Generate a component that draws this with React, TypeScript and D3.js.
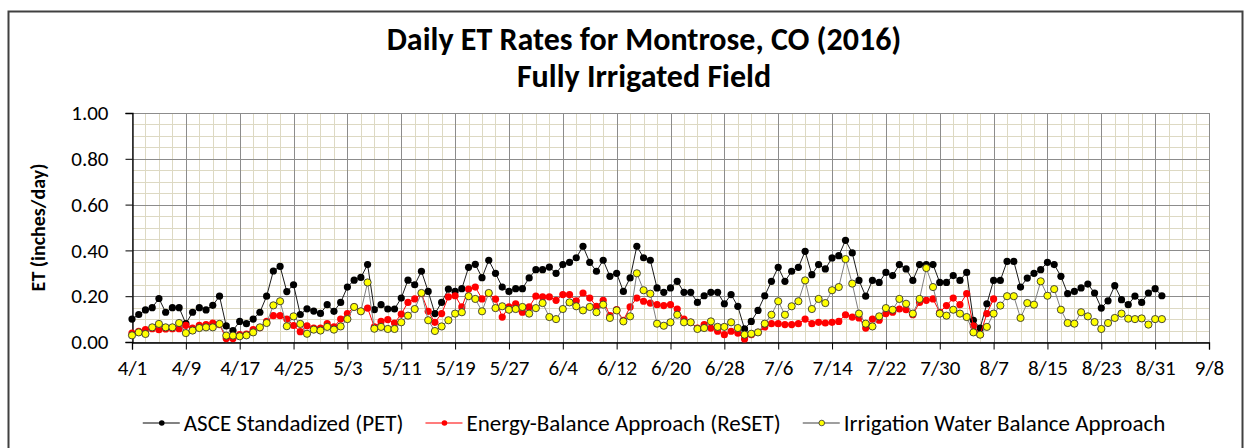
import React, { useEffect, useRef } from 'react';
import * as d3 from 'd3';

// daily values (inches/day), first value is 4/1/2016
const startDate = new Date(2016, 3, 1);
const endDate = new Date(2016, 8, 8);

const ascePET = [
  0.10, 0.12, 0.14, 0.15, 0.19, 0.13, 0.15, 0.15, 0.08, 0.13,
  0.15, 0.14, 0.16, 0.20, 0.07, 0.05, 0.09, 0.08, 0.10, 0.13,
  0.20, 0.31, 0.33, 0.22, 0.25, 0.12, 0.145, 0.135, 0.125, 0.163,
  0.134, 0.173, 0.24, 0.27, 0.282, 0.338, 0.141, 0.163, 0.144, 0.144,
  0.192, 0.27, 0.25, 0.309, 0.221, 0.124, 0.173, 0.231, 0.221, 0.233,
  0.326, 0.339, 0.281, 0.357, 0.30, 0.24, 0.221, 0.233, 0.233, 0.28,
  0.316, 0.316, 0.327, 0.30, 0.338, 0.348, 0.368, 0.418, 0.348, 0.309,
  0.357, 0.287, 0.30, 0.221, 0.28, 0.418, 0.368, 0.357, 0.236, 0.217,
  0.236, 0.265, 0.217, 0.217, 0.173, 0.202, 0.217, 0.217, 0.167, 0.207,
  0.156, 0.057, 0.09, 0.138, 0.202, 0.265, 0.326, 0.265, 0.309, 0.326,
  0.396, 0.294, 0.338, 0.319, 0.367, 0.377, 0.444, 0.389, 0.269, 0.20,
  0.269, 0.26, 0.304, 0.29, 0.338, 0.319, 0.269, 0.338, 0.338, 0.338,
  0.26, 0.26, 0.29, 0.269, 0.304, 0.095, 0.061, 0.167, 0.269, 0.269,
  0.352, 0.352, 0.24, 0.279, 0.30, 0.316, 0.348, 0.338, 0.287, 0.211,
  0.221, 0.236, 0.253, 0.214, 0.148, 0.18, 0.246, 0.185, 0.163, 0.20,
  0.173, 0.214, 0.233, 0.202,
];

const resetET = [
  0.039, 0.047, 0.054, 0.058, 0.054, 0.057, 0.058, 0.058, 0.073, 0.061,
  0.073, 0.076, 0.083, 0.076, 0.015, 0.015, 0.032, 0.035, 0.054, 0.063,
  0.09, 0.115, 0.115, 0.10, 0.072, 0.045, 0.071, 0.061, 0.061, 0.08,
  0.066, 0.10, 0.124, 0.153, 0.134, 0.148, 0.066, 0.09, 0.098, 0.083,
  0.122, 0.173, 0.188, 0.211, 0.134, 0.086, 0.124, 0.197, 0.202, 0.153,
  0.231, 0.24, 0.188, 0.212, 0.187, 0.109, 0.153, 0.167, 0.13, 0.153,
  0.20, 0.197, 0.197, 0.182, 0.207, 0.207, 0.18, 0.214, 0.192, 0.156,
  0.182, 0.115, 0.141, 0.095, 0.153, 0.192, 0.178, 0.17, 0.163, 0.159,
  0.163, 0.144, 0.10, 0.086, 0.061, 0.076, 0.061, 0.047, 0.032, 0.047,
  0.039, 0.013, 0.032, 0.042, 0.066, 0.08, 0.08, 0.076, 0.076, 0.08,
  0.10, 0.08, 0.086, 0.083, 0.086, 0.09, 0.119, 0.109, 0.105, 0.061,
  0.10, 0.095, 0.124, 0.13, 0.144, 0.141, 0.119, 0.173, 0.182, 0.188,
  0.13, 0.159, 0.192, 0.163, 0.211, 0.071, 0.032, 0.124, 0.188,
];

const irrigationWB = [
  0.029, 0.042, 0.035, 0.064, 0.079, 0.064, 0.064, 0.083, 0.039, 0.05,
  0.061, 0.064, 0.064, 0.079, 0.028, 0.028, 0.025, 0.029, 0.042, 0.064,
  0.083, 0.16, 0.178, 0.069, 0.112, 0.079, 0.036, 0.054, 0.05, 0.066,
  0.054, 0.068, 0.10, 0.153, 0.134, 0.26, 0.058, 0.066, 0.057, 0.057,
  0.086, 0.115, 0.144, 0.214, 0.095, 0.048, 0.068, 0.095, 0.124, 0.13,
  0.20, 0.188, 0.134, 0.214, 0.148, 0.156, 0.141, 0.144, 0.153, 0.124,
  0.148, 0.17, 0.109, 0.10, 0.144, 0.173, 0.156, 0.138, 0.153, 0.13,
  0.163, 0.105, 0.138, 0.09, 0.112, 0.30, 0.226, 0.211, 0.08, 0.071,
  0.086, 0.119, 0.086, 0.086, 0.057, 0.061, 0.09, 0.066, 0.066, 0.086,
  0.061, 0.032, 0.036, 0.042, 0.08, 0.119, 0.178, 0.119, 0.156, 0.178,
  0.269, 0.144, 0.188, 0.17, 0.226, 0.24, 0.362, 0.255, 0.124, 0.08,
  0.068, 0.112, 0.148, 0.141, 0.188, 0.167, 0.124, 0.188, 0.323, 0.24,
  0.124, 0.115, 0.141, 0.124, 0.109, 0.042, 0.032, 0.066, 0.124, 0.159,
  0.20, 0.20, 0.105, 0.17, 0.163, 0.265, 0.202, 0.231, 0.141, 0.083,
  0.08, 0.13, 0.112, 0.087, 0.057, 0.083, 0.105, 0.124, 0.102, 0.10,
  0.103, 0.076, 0.10, 0.10,
];

const yTicks = [0, 0.2, 0.4, 0.6, 0.8, 1.0];
const seriesNames = [
  'ASCE Standadized (PET)',
  'Energy-Balance Approach (ReSET)',
  'Irrigation Water Balance Approach',
];

const FONT = 'Carlito, Calibri, Roboto, sans-serif';

const App = () => {
  const svgRef = useRef(null);
  const width = 1249;
  const height = 448;

  useEffect(() => {
    const svg = d3.select(svgRef.current);
    svg.selectAll('*').remove();

    const x = d3.scaleTime().domain([startDate, endDate]).range([132, 1209]);
    const y = d3.scaleLinear().domain([0, 1]).range([342, 113]);
    const day = (i) => d3.timeDay.offset(startDate, i);
    const nDays = d3.timeDay.count(startDate, endDate);
    const px = (v) => Math.round(v) + 0.5;

    // outer frame
    svg.append('rect')
      .attr('x', 8.5).attr('y', 11.5)
      .attr('width', 1234).attr('height', 460)
      .attr('fill', 'white')
      .attr('stroke', '#404040')
      .attr('stroke-width', 2);

    // titles
    svg.append('text')
      .attr('x', 644).attr('y', 50)
      .attr('text-anchor', 'middle')
      .style('font-family', FONT)
      .style('font-weight', 'bold')
      .style('font-size', '32px')
      .text('Daily ET Rates for Montrose, CO (2016)');
    svg.append('text')
      .attr('x', 644).attr('y', 87)
      .attr('text-anchor', 'middle')
      .style('font-family', FONT)
      .style('font-weight', 'bold')
      .style('font-size', '32px')
      .text('Fully Irrigated Field');

    const grid = svg.append('g').attr('shape-rendering', 'crispEdges');

    // minor grid
    grid.selectAll('.vminor')
      .data(d3.range(0, nDays + 1, 2))
      .enter().append('line')
      .attr('x1', d => px(x(day(d)))).attr('x2', d => px(x(day(d))))
      .attr('y1', y(0)).attr('y2', y(1))
      .attr('stroke', '#ddd9c3').attr('stroke-width', 1);

    grid.selectAll('.hminor')
      .data(d3.range(0, 1.001, 0.05))
      .enter().append('line')
      .attr('x1', x(startDate)).attr('x2', x(endDate))
      .attr('y1', d => px(y(d))).attr('y2', d => px(y(d)))
      .attr('stroke', '#ddd9c3').attr('stroke-width', 1);

    // major grid
    const xTickDays = d3.range(0, nDays + 1, 8);
    grid.selectAll('.vmajor')
      .data(xTickDays)
      .enter().append('line')
      .attr('x1', d => px(x(day(d)))).attr('x2', d => px(x(day(d))))
      .attr('y1', y(0)).attr('y2', y(1))
      .attr('stroke', '#8c8c8c').attr('stroke-width', 1);

    grid.selectAll('.hmajor')
      .data(yTicks)
      .enter().append('line')
      .attr('x1', x(startDate)).attr('x2', x(endDate))
      .attr('y1', d => px(y(d))).attr('y2', d => px(y(d)))
      .attr('stroke', '#8c8c8c').attr('stroke-width', 1);

    // axes
    const xAxis = svg.append('g')
      .attr('transform', `translate(0,${px(y(0))})`)
      .call(d3.axisBottom(x)
        .tickValues(xTickDays.map(day))
        .tickFormat(d3.timeFormat('%-m/%-d'))
        .tickSize(7)
        .tickPadding(11));
    const yAxis = svg.append('g')
      .attr('transform', `translate(${px(x(startDate))},0)`)
      .call(d3.axisLeft(y)
        .tickValues(yTicks)
        .tickFormat(d3.format('.2f'))
        .tickSize(7)
        .tickPadding(17));
    [xAxis, yAxis].forEach(a => {
      a.select('.domain').attr('stroke', '#000').attr('stroke-width', 1.3);
      a.selectAll('.tick line').attr('stroke', '#000');
      a.selectAll('.tick text')
        .attr('fill', '#000')
        .style('font-family', FONT)
        .style('font-size', '21px');
    });

    svg.append('text')
      .attr('transform', `translate(45,${(y(0) + y(1)) / 2}) rotate(-90)`)
      .attr('text-anchor', 'middle')
      .style('font-family', FONT)
      .style('font-weight', 'bold')
      .style('font-size', '20px')
      .text('ET (inches/day)');

    // series
    const series = [
      { name: seriesNames[0], values: ascePET, line: '#1a1a1a', legendLine: '#595959', fill: '#000', stroke: 'none' },
      { name: seriesNames[1], values: resetET, line: '#ff0000', legendLine: '#ff5050', fill: '#ff0000', stroke: 'none' },
      { name: seriesNames[2], values: irrigationWB, line: '#7f7f7f', legendLine: '#7f7f7f', fill: '#ffff00', stroke: '#333' },
    ];

    const line = d3.line()
      .x((d, i) => x(day(i)))
      .y(d => y(d));

    series.forEach(s => {
      const g = svg.append('g');
      g.append('path')
        .attr('d', line(s.values))
        .attr('fill', 'none')
        .attr('stroke', s.line)
        .attr('stroke-width', 1);
      g.selectAll('circle')
        .data(s.values)
        .enter().append('circle')
        .attr('cx', (d, i) => x(day(i)))
        .attr('cy', d => y(d))
        .attr('r', 3.6)
        .attr('fill', s.fill)
        .attr('stroke', s.stroke)
        .attr('stroke-width', 0.9);
    });

    // legend
    const legend = svg.append('g');
    const gap = 22;
    let cx = 0;
    series.forEach(s => {
      const item = legend.append('g');
      item.append('line')
        .attr('x1', 0).attr('x2', 37).attr('y1', 0).attr('y2', 0)
        .attr('stroke', s.legendLine).attr('stroke-width', 1.5);
      item.append('circle')
        .attr('cx', 19).attr('cy', 0).attr('r', 2.8)
        .attr('fill', s.fill).attr('stroke', s.stroke).attr('stroke-width', 0.8);
      const t = item.append('text')
        .attr('x', 41).attr('dy', '0.35em')
        .style('font-family', FONT)
        .style('font-size', '23px')
        .text(s.name);
      const w = 41 + t.node().getComputedTextLength();
      item.attr('transform', `translate(${cx},0)`);
      cx += w + gap;
    });
    const total = cx - gap;
    legend.attr('transform', `translate(${654 - total / 2},423)`);
  }, []);

  return (
    <svg
      ref={svgRef}
      width={width}
      height={height}
      style={{ position: 'absolute', left: 0, top: 0, background: 'white' }}
    ></svg>
  );
};

export default App;
